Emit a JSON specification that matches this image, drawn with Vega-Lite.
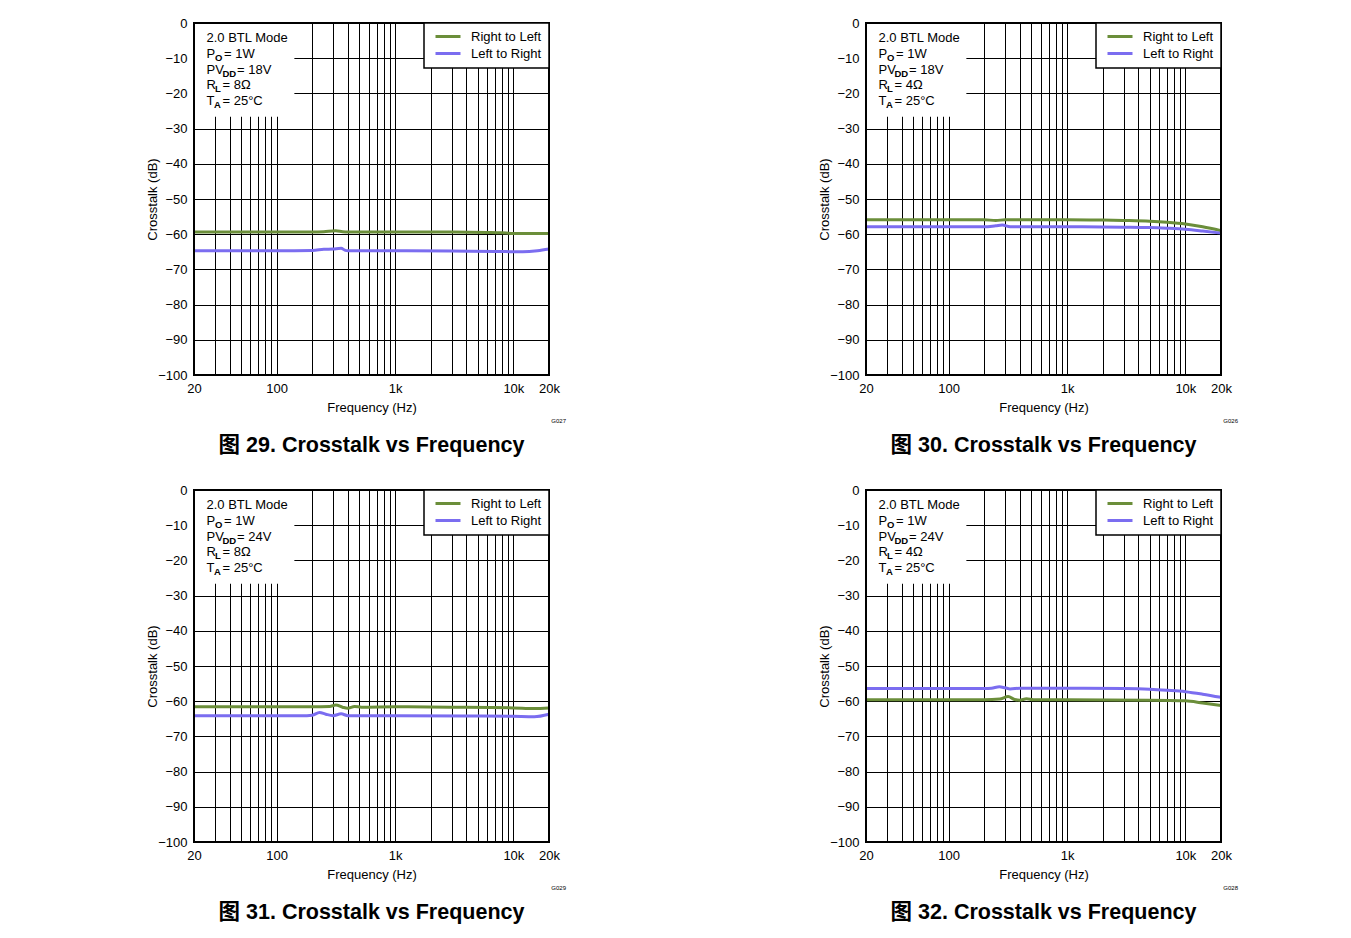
{
  "$schema": "https://vega.github.io/schema/vega-lite/v6.json",
  "padding": {"left": 146, "top": 17, "right": 5, "bottom": 5},
  "columns": 2,
  "spacing": {"row": 115, "column": 317},
  "bounds": "flush",
  "resolve": {"scale": {"color": "independent"}},
  "datasets": {
    "notes": [
      {"p": 29, "mode": "2.0 BTL Mode", "po": "= 1W", "pv": "= 18V", "rl": "= 8Ω", "ta": "= 25°C", "code": "G027"},
      {"p": 30, "mode": "2.0 BTL Mode", "po": "= 1W", "pv": "= 18V", "rl": "= 4Ω", "ta": "= 25°C", "code": "G026"},
      {"p": 31, "mode": "2.0 BTL Mode", "po": "= 1W", "pv": "= 24V", "rl": "= 8Ω", "ta": "= 25°C", "code": "G029"},
      {"p": 32, "mode": "2.0 BTL Mode", "po": "= 1W", "pv": "= 24V", "rl": "= 4Ω", "ta": "= 25°C", "code": "G028"}
    ],
    "curves": [
      {"p": 29, "s": "Right to Left", "f": 20, "db": -59.4},
      {"p": 29, "s": "Right to Left", "f": 50, "db": -59.4},
      {"p": 29, "s": "Right to Left", "f": 100, "db": -59.4},
      {"p": 29, "s": "Right to Left", "f": 200, "db": -59.4},
      {"p": 29, "s": "Right to Left", "f": 250, "db": -59.3},
      {"p": 29, "s": "Right to Left", "f": 315, "db": -59.0},
      {"p": 29, "s": "Right to Left", "f": 360, "db": -59.3},
      {"p": 29, "s": "Right to Left", "f": 400, "db": -59.4},
      {"p": 29, "s": "Right to Left", "f": 1000, "db": -59.4},
      {"p": 29, "s": "Right to Left", "f": 3000, "db": -59.4},
      {"p": 29, "s": "Right to Left", "f": 6000, "db": -59.5},
      {"p": 29, "s": "Right to Left", "f": 8000, "db": -59.6},
      {"p": 29, "s": "Right to Left", "f": 10000, "db": -59.8},
      {"p": 29, "s": "Right to Left", "f": 20000, "db": -59.8},
      {"p": 29, "s": "Left to Right", "f": 20, "db": -64.7},
      {"p": 29, "s": "Left to Right", "f": 100, "db": -64.7},
      {"p": 29, "s": "Left to Right", "f": 200, "db": -64.6},
      {"p": 29, "s": "Left to Right", "f": 250, "db": -64.3},
      {"p": 29, "s": "Left to Right", "f": 300, "db": -64.2},
      {"p": 29, "s": "Left to Right", "f": 350, "db": -64.0},
      {"p": 29, "s": "Left to Right", "f": 380, "db": -64.6},
      {"p": 29, "s": "Left to Right", "f": 400, "db": -64.7},
      {"p": 29, "s": "Left to Right", "f": 1000, "db": -64.7},
      {"p": 29, "s": "Left to Right", "f": 3000, "db": -64.8},
      {"p": 29, "s": "Left to Right", "f": 7000, "db": -64.9},
      {"p": 29, "s": "Left to Right", "f": 12000, "db": -65.0},
      {"p": 29, "s": "Left to Right", "f": 16000, "db": -64.7},
      {"p": 29, "s": "Left to Right", "f": 20000, "db": -64.2},
      {"p": 30, "s": "Right to Left", "f": 20, "db": -55.9},
      {"p": 30, "s": "Right to Left", "f": 200, "db": -55.9},
      {"p": 30, "s": "Right to Left", "f": 250, "db": -56.1},
      {"p": 30, "s": "Right to Left", "f": 300, "db": -55.9},
      {"p": 30, "s": "Right to Left", "f": 1000, "db": -55.9},
      {"p": 30, "s": "Right to Left", "f": 2000, "db": -56.0},
      {"p": 30, "s": "Right to Left", "f": 3000, "db": -56.1},
      {"p": 30, "s": "Right to Left", "f": 5000, "db": -56.3},
      {"p": 30, "s": "Right to Left", "f": 7000, "db": -56.6},
      {"p": 30, "s": "Right to Left", "f": 10000, "db": -57.1},
      {"p": 30, "s": "Right to Left", "f": 14000, "db": -57.9},
      {"p": 30, "s": "Right to Left", "f": 20000, "db": -59.0},
      {"p": 30, "s": "Left to Right", "f": 20, "db": -57.9},
      {"p": 30, "s": "Left to Right", "f": 200, "db": -57.9},
      {"p": 30, "s": "Left to Right", "f": 250, "db": -57.6},
      {"p": 30, "s": "Left to Right", "f": 284, "db": -57.4},
      {"p": 30, "s": "Left to Right", "f": 330, "db": -57.9},
      {"p": 30, "s": "Left to Right", "f": 1000, "db": -57.9},
      {"p": 30, "s": "Left to Right", "f": 3000, "db": -58.0},
      {"p": 30, "s": "Left to Right", "f": 5000, "db": -58.1},
      {"p": 30, "s": "Left to Right", "f": 7000, "db": -58.3},
      {"p": 30, "s": "Left to Right", "f": 10000, "db": -58.6},
      {"p": 30, "s": "Left to Right", "f": 14000, "db": -59.1},
      {"p": 30, "s": "Left to Right", "f": 20000, "db": -59.7},
      {"p": 31, "s": "Right to Left", "f": 20, "db": -61.6},
      {"p": 31, "s": "Right to Left", "f": 200, "db": -61.6},
      {"p": 31, "s": "Right to Left", "f": 280, "db": -61.5},
      {"p": 31, "s": "Right to Left", "f": 316, "db": -61.1},
      {"p": 31, "s": "Right to Left", "f": 360, "db": -61.7},
      {"p": 31, "s": "Right to Left", "f": 397, "db": -62.0},
      {"p": 31, "s": "Right to Left", "f": 455, "db": -61.5},
      {"p": 31, "s": "Right to Left", "f": 520, "db": -61.7},
      {"p": 31, "s": "Right to Left", "f": 1000, "db": -61.6},
      {"p": 31, "s": "Right to Left", "f": 3000, "db": -61.7},
      {"p": 31, "s": "Right to Left", "f": 10000, "db": -61.9},
      {"p": 31, "s": "Right to Left", "f": 15000, "db": -62.1},
      {"p": 31, "s": "Right to Left", "f": 20000, "db": -61.9},
      {"p": 31, "s": "Left to Right", "f": 20, "db": -64.1},
      {"p": 31, "s": "Left to Right", "f": 180, "db": -64.1},
      {"p": 31, "s": "Left to Right", "f": 200, "db": -64.0},
      {"p": 31, "s": "Left to Right", "f": 230, "db": -63.2},
      {"p": 31, "s": "Left to Right", "f": 260, "db": -63.7},
      {"p": 31, "s": "Left to Right", "f": 300, "db": -64.1},
      {"p": 31, "s": "Left to Right", "f": 350, "db": -63.6},
      {"p": 31, "s": "Left to Right", "f": 400, "db": -64.1},
      {"p": 31, "s": "Left to Right", "f": 1000, "db": -64.1},
      {"p": 31, "s": "Left to Right", "f": 5000, "db": -64.2},
      {"p": 31, "s": "Left to Right", "f": 10000, "db": -64.3},
      {"p": 31, "s": "Left to Right", "f": 15000, "db": -64.4},
      {"p": 31, "s": "Left to Right", "f": 20000, "db": -63.7},
      {"p": 32, "s": "Right to Left", "f": 20, "db": -59.6},
      {"p": 32, "s": "Right to Left", "f": 200, "db": -59.6},
      {"p": 32, "s": "Right to Left", "f": 270, "db": -59.4},
      {"p": 32, "s": "Right to Left", "f": 318, "db": -58.7},
      {"p": 32, "s": "Right to Left", "f": 360, "db": -59.5},
      {"p": 32, "s": "Right to Left", "f": 397, "db": -59.7},
      {"p": 32, "s": "Right to Left", "f": 455, "db": -59.3},
      {"p": 32, "s": "Right to Left", "f": 520, "db": -59.6},
      {"p": 32, "s": "Right to Left", "f": 1000, "db": -59.6},
      {"p": 32, "s": "Right to Left", "f": 5000, "db": -59.7},
      {"p": 32, "s": "Right to Left", "f": 10000, "db": -59.9},
      {"p": 32, "s": "Right to Left", "f": 14000, "db": -60.5},
      {"p": 32, "s": "Right to Left", "f": 20000, "db": -61.2},
      {"p": 32, "s": "Left to Right", "f": 20, "db": -56.4},
      {"p": 32, "s": "Left to Right", "f": 150, "db": -56.4},
      {"p": 32, "s": "Left to Right", "f": 200, "db": -56.4},
      {"p": 32, "s": "Left to Right", "f": 230, "db": -56.3},
      {"p": 32, "s": "Left to Right", "f": 268, "db": -55.9},
      {"p": 32, "s": "Left to Right", "f": 300, "db": -56.2},
      {"p": 32, "s": "Left to Right", "f": 330, "db": -56.5},
      {"p": 32, "s": "Left to Right", "f": 400, "db": -56.3},
      {"p": 32, "s": "Left to Right", "f": 1000, "db": -56.3},
      {"p": 32, "s": "Left to Right", "f": 3000, "db": -56.4},
      {"p": 32, "s": "Left to Right", "f": 5000, "db": -56.6},
      {"p": 32, "s": "Left to Right", "f": 7000, "db": -56.9},
      {"p": 32, "s": "Left to Right", "f": 10000, "db": -57.3},
      {"p": 32, "s": "Left to Right", "f": 14000, "db": -58.0},
      {"p": 32, "s": "Left to Right", "f": 20000, "db": -58.9}
    ]
  },
  "concat": [
    {
      "width": 355, "height": 352,
      "title": {"text": "图 29. Crosstalk vs Frequency"},
      "data": {"name": "notes"},
      "transform": [{"filter": "datum.p == 29"}],
      "layer": [
        {"mark": {"type": "rect", "fill": "white"}, "encoding": {
          "x": {"datum": 20, "type": "quantitative", "scale": {"type": "log", "domain": [20, 20000], "nice": false}, "axis": {"title": "Frequency (Hz)", "values": [20,30,40,50,60,70,80,90,100,200,300,400,500,600,700,800,900,1000,2000,3000,4000,5000,6000,7000,8000,9000,10000,20000], "labelExpr": "datum.value == 20 ? '20' : datum.value == 100 ? '100' : datum.value == 1000 ? '1k' : datum.value == 10000 ? '10k' : datum.value == 20000 ? '20k' : ''", "labelOverlap": false, "labelFlush": false, "labelPadding": 7, "titlePadding": 6}},
          "x2": {"datum": 141},
          "y": {"datum": 0, "type": "quantitative", "scale": {"domain": [-100, 0], "nice": false}, "axis": {"title": "Crosstalk (dB)", "values": [-100,-90,-80,-70,-60,-50,-40,-30,-20,-10,0], "labelOverlap": false, "labelPadding": 7, "titlePadding": -1.5}},
          "y2": {"datum": -26.6}}},
        {"data": {"name": "curves"}, "transform": [{"filter": "datum.p == 29"}], "mark": {"type": "line", "strokeWidth": 3, "interpolate": "monotone"}, "encoding": {
          "x": {"field": "f", "type": "quantitative", "scale": {"type": "log", "domain": [20, 20000], "nice": false}, "axis": {"title": "Frequency (Hz)", "values": [20,30,40,50,60,70,80,90,100,200,300,400,500,600,700,800,900,1000,2000,3000,4000,5000,6000,7000,8000,9000,10000,20000], "labelExpr": "datum.value == 20 ? '20' : datum.value == 100 ? '100' : datum.value == 1000 ? '1k' : datum.value == 10000 ? '10k' : datum.value == 20000 ? '20k' : ''", "labelOverlap": false, "labelFlush": false, "labelPadding": 7, "titlePadding": 6}},
          "y": {"field": "db", "type": "quantitative", "scale": {"domain": [-100, 0], "nice": false}, "axis": {"title": "Crosstalk (dB)", "values": [-100,-90,-80,-70,-60,-50,-40,-30,-20,-10,0], "labelOverlap": false, "labelPadding": 7, "titlePadding": -1.5}},
          "color": {"field": "s", "type": "nominal", "scale": {"domain": ["Right to Left", "Left to Right"], "range": ["#6B8E3A", "#7B6DF0"]}, "legend": {"title": null}}}},
        {"mark": {"type": "text", "align": "left", "baseline": "alphabetic", "fontSize": 13}, "encoding": {"x": {"datum": 25.5, "type": "quantitative"}, "y": {"datum": -5.5, "type": "quantitative"}, "text": {"field": "mode"}}},
        {"mark": {"type": "text", "align": "left", "baseline": "alphabetic", "fontSize": 13}, "encoding": {"x": {"datum": 25.5, "type": "quantitative"}, "y": {"datum": -9.95, "type": "quantitative"}, "text": {"value": "P"}}},
        {"mark": {"type": "text", "align": "left", "baseline": "alphabetic", "fontSize": 9.5, "fontWeight": "bold", "dx": 8.5, "dy": 3}, "encoding": {"x": {"datum": 25.5, "type": "quantitative"}, "y": {"datum": -9.95, "type": "quantitative"}, "text": {"value": "O"}}},
        {"mark": {"type": "text", "align": "left", "baseline": "alphabetic", "fontSize": 13, "dx": 17.5}, "encoding": {"x": {"datum": 25.5, "type": "quantitative"}, "y": {"datum": -9.95, "type": "quantitative"}, "text": {"field": "po"}}},
        {"mark": {"type": "text", "align": "left", "baseline": "alphabetic", "fontSize": 13}, "encoding": {"x": {"datum": 25.5, "type": "quantitative"}, "y": {"datum": -14.4, "type": "quantitative"}, "text": {"value": "PV"}}},
        {"mark": {"type": "text", "align": "left", "baseline": "alphabetic", "fontSize": 9.5, "fontWeight": "bold", "dx": 16, "dy": 3}, "encoding": {"x": {"datum": 25.5, "type": "quantitative"}, "y": {"datum": -14.4, "type": "quantitative"}, "text": {"value": "DD"}}},
        {"mark": {"type": "text", "align": "left", "baseline": "alphabetic", "fontSize": 13, "dx": 30.5}, "encoding": {"x": {"datum": 25.5, "type": "quantitative"}, "y": {"datum": -14.4, "type": "quantitative"}, "text": {"field": "pv"}}},
        {"mark": {"type": "text", "align": "left", "baseline": "alphabetic", "fontSize": 13}, "encoding": {"x": {"datum": 25.5, "type": "quantitative"}, "y": {"datum": -18.85, "type": "quantitative"}, "text": {"value": "R"}}},
        {"mark": {"type": "text", "align": "left", "baseline": "alphabetic", "fontSize": 9.5, "fontWeight": "bold", "dx": 8.5, "dy": 3}, "encoding": {"x": {"datum": 25.5, "type": "quantitative"}, "y": {"datum": -18.85, "type": "quantitative"}, "text": {"value": "L"}}},
        {"mark": {"type": "text", "align": "left", "baseline": "alphabetic", "fontSize": 13, "dx": 16}, "encoding": {"x": {"datum": 25.5, "type": "quantitative"}, "y": {"datum": -18.85, "type": "quantitative"}, "text": {"field": "rl"}}},
        {"mark": {"type": "text", "align": "left", "baseline": "alphabetic", "fontSize": 13}, "encoding": {"x": {"datum": 25.5, "type": "quantitative"}, "y": {"datum": -23.3, "type": "quantitative"}, "text": {"value": "T"}}},
        {"mark": {"type": "text", "align": "left", "baseline": "alphabetic", "fontSize": 9.5, "fontWeight": "bold", "dx": 7.5, "dy": 3}, "encoding": {"x": {"datum": 25.5, "type": "quantitative"}, "y": {"datum": -23.3, "type": "quantitative"}, "text": {"value": "A"}}},
        {"mark": {"type": "text", "align": "left", "baseline": "alphabetic", "fontSize": 13, "dx": 16}, "encoding": {"x": {"datum": 25.5, "type": "quantitative"}, "y": {"datum": -23.3, "type": "quantitative"}, "text": {"field": "ta"}}},
        {"mark": {"type": "text", "align": "right", "baseline": "middle", "fontSize": 6, "dx": 17, "dy": 46}, "encoding": {"x": {"datum": 20000, "type": "quantitative"}, "y": {"datum": -100, "type": "quantitative"}, "text": {"field": "code"}}},
        {"mark": {"type": "rect", "fillOpacity": 0, "stroke": "black", "strokeWidth": 2}, "encoding": {"x": {"datum": 20, "type": "quantitative"}, "x2": {"datum": 20000}, "y": {"datum": 0, "type": "quantitative"}, "y2": {"datum": -100}}}
      ]
    },
    {
      "width": 355, "height": 352,
      "title": {"text": "图 30. Crosstalk vs Frequency"},
      "data": {"name": "notes"},
      "transform": [{"filter": "datum.p == 30"}],
      "layer": [
        {"mark": {"type": "rect", "fill": "white"}, "encoding": {
          "x": {"datum": 20, "type": "quantitative", "scale": {"type": "log", "domain": [20, 20000], "nice": false}, "axis": {"title": "Frequency (Hz)", "values": [20,30,40,50,60,70,80,90,100,200,300,400,500,600,700,800,900,1000,2000,3000,4000,5000,6000,7000,8000,9000,10000,20000], "labelExpr": "datum.value == 20 ? '20' : datum.value == 100 ? '100' : datum.value == 1000 ? '1k' : datum.value == 10000 ? '10k' : datum.value == 20000 ? '20k' : ''", "labelOverlap": false, "labelFlush": false, "labelPadding": 7, "titlePadding": 6}},
          "x2": {"datum": 141},
          "y": {"datum": 0, "type": "quantitative", "scale": {"domain": [-100, 0], "nice": false}, "axis": {"title": "Crosstalk (dB)", "values": [-100,-90,-80,-70,-60,-50,-40,-30,-20,-10,0], "labelOverlap": false, "labelPadding": 7, "titlePadding": -1.5}},
          "y2": {"datum": -26.6}}},
        {"data": {"name": "curves"}, "transform": [{"filter": "datum.p == 30"}], "mark": {"type": "line", "strokeWidth": 3, "interpolate": "monotone"}, "encoding": {
          "x": {"field": "f", "type": "quantitative", "scale": {"type": "log", "domain": [20, 20000], "nice": false}, "axis": {"title": "Frequency (Hz)", "values": [20,30,40,50,60,70,80,90,100,200,300,400,500,600,700,800,900,1000,2000,3000,4000,5000,6000,7000,8000,9000,10000,20000], "labelExpr": "datum.value == 20 ? '20' : datum.value == 100 ? '100' : datum.value == 1000 ? '1k' : datum.value == 10000 ? '10k' : datum.value == 20000 ? '20k' : ''", "labelOverlap": false, "labelFlush": false, "labelPadding": 7, "titlePadding": 6}},
          "y": {"field": "db", "type": "quantitative", "scale": {"domain": [-100, 0], "nice": false}, "axis": {"title": "Crosstalk (dB)", "values": [-100,-90,-80,-70,-60,-50,-40,-30,-20,-10,0], "labelOverlap": false, "labelPadding": 7, "titlePadding": -1.5}},
          "color": {"field": "s", "type": "nominal", "scale": {"domain": ["Right to Left", "Left to Right"], "range": ["#6B8E3A", "#7B6DF0"]}, "legend": {"title": null}}}},
        {"mark": {"type": "text", "align": "left", "baseline": "alphabetic", "fontSize": 13}, "encoding": {"x": {"datum": 25.5, "type": "quantitative"}, "y": {"datum": -5.5, "type": "quantitative"}, "text": {"field": "mode"}}},
        {"mark": {"type": "text", "align": "left", "baseline": "alphabetic", "fontSize": 13}, "encoding": {"x": {"datum": 25.5, "type": "quantitative"}, "y": {"datum": -9.95, "type": "quantitative"}, "text": {"value": "P"}}},
        {"mark": {"type": "text", "align": "left", "baseline": "alphabetic", "fontSize": 9.5, "fontWeight": "bold", "dx": 8.5, "dy": 3}, "encoding": {"x": {"datum": 25.5, "type": "quantitative"}, "y": {"datum": -9.95, "type": "quantitative"}, "text": {"value": "O"}}},
        {"mark": {"type": "text", "align": "left", "baseline": "alphabetic", "fontSize": 13, "dx": 17.5}, "encoding": {"x": {"datum": 25.5, "type": "quantitative"}, "y": {"datum": -9.95, "type": "quantitative"}, "text": {"field": "po"}}},
        {"mark": {"type": "text", "align": "left", "baseline": "alphabetic", "fontSize": 13}, "encoding": {"x": {"datum": 25.5, "type": "quantitative"}, "y": {"datum": -14.4, "type": "quantitative"}, "text": {"value": "PV"}}},
        {"mark": {"type": "text", "align": "left", "baseline": "alphabetic", "fontSize": 9.5, "fontWeight": "bold", "dx": 16, "dy": 3}, "encoding": {"x": {"datum": 25.5, "type": "quantitative"}, "y": {"datum": -14.4, "type": "quantitative"}, "text": {"value": "DD"}}},
        {"mark": {"type": "text", "align": "left", "baseline": "alphabetic", "fontSize": 13, "dx": 30.5}, "encoding": {"x": {"datum": 25.5, "type": "quantitative"}, "y": {"datum": -14.4, "type": "quantitative"}, "text": {"field": "pv"}}},
        {"mark": {"type": "text", "align": "left", "baseline": "alphabetic", "fontSize": 13}, "encoding": {"x": {"datum": 25.5, "type": "quantitative"}, "y": {"datum": -18.85, "type": "quantitative"}, "text": {"value": "R"}}},
        {"mark": {"type": "text", "align": "left", "baseline": "alphabetic", "fontSize": 9.5, "fontWeight": "bold", "dx": 8.5, "dy": 3}, "encoding": {"x": {"datum": 25.5, "type": "quantitative"}, "y": {"datum": -18.85, "type": "quantitative"}, "text": {"value": "L"}}},
        {"mark": {"type": "text", "align": "left", "baseline": "alphabetic", "fontSize": 13, "dx": 16}, "encoding": {"x": {"datum": 25.5, "type": "quantitative"}, "y": {"datum": -18.85, "type": "quantitative"}, "text": {"field": "rl"}}},
        {"mark": {"type": "text", "align": "left", "baseline": "alphabetic", "fontSize": 13}, "encoding": {"x": {"datum": 25.5, "type": "quantitative"}, "y": {"datum": -23.3, "type": "quantitative"}, "text": {"value": "T"}}},
        {"mark": {"type": "text", "align": "left", "baseline": "alphabetic", "fontSize": 9.5, "fontWeight": "bold", "dx": 7.5, "dy": 3}, "encoding": {"x": {"datum": 25.5, "type": "quantitative"}, "y": {"datum": -23.3, "type": "quantitative"}, "text": {"value": "A"}}},
        {"mark": {"type": "text", "align": "left", "baseline": "alphabetic", "fontSize": 13, "dx": 16}, "encoding": {"x": {"datum": 25.5, "type": "quantitative"}, "y": {"datum": -23.3, "type": "quantitative"}, "text": {"field": "ta"}}},
        {"mark": {"type": "text", "align": "right", "baseline": "middle", "fontSize": 6, "dx": 17, "dy": 46}, "encoding": {"x": {"datum": 20000, "type": "quantitative"}, "y": {"datum": -100, "type": "quantitative"}, "text": {"field": "code"}}},
        {"mark": {"type": "rect", "fillOpacity": 0, "stroke": "black", "strokeWidth": 2}, "encoding": {"x": {"datum": 20, "type": "quantitative"}, "x2": {"datum": 20000}, "y": {"datum": 0, "type": "quantitative"}, "y2": {"datum": -100}}}
      ]
    },
    {
      "width": 355, "height": 352,
      "title": {"text": "图 31. Crosstalk vs Frequency"},
      "data": {"name": "notes"},
      "transform": [{"filter": "datum.p == 31"}],
      "layer": [
        {"mark": {"type": "rect", "fill": "white"}, "encoding": {
          "x": {"datum": 20, "type": "quantitative", "scale": {"type": "log", "domain": [20, 20000], "nice": false}, "axis": {"title": "Frequency (Hz)", "values": [20,30,40,50,60,70,80,90,100,200,300,400,500,600,700,800,900,1000,2000,3000,4000,5000,6000,7000,8000,9000,10000,20000], "labelExpr": "datum.value == 20 ? '20' : datum.value == 100 ? '100' : datum.value == 1000 ? '1k' : datum.value == 10000 ? '10k' : datum.value == 20000 ? '20k' : ''", "labelOverlap": false, "labelFlush": false, "labelPadding": 7, "titlePadding": 6}},
          "x2": {"datum": 141},
          "y": {"datum": 0, "type": "quantitative", "scale": {"domain": [-100, 0], "nice": false}, "axis": {"title": "Crosstalk (dB)", "values": [-100,-90,-80,-70,-60,-50,-40,-30,-20,-10,0], "labelOverlap": false, "labelPadding": 7, "titlePadding": -1.5}},
          "y2": {"datum": -26.6}}},
        {"data": {"name": "curves"}, "transform": [{"filter": "datum.p == 31"}], "mark": {"type": "line", "strokeWidth": 3, "interpolate": "monotone"}, "encoding": {
          "x": {"field": "f", "type": "quantitative", "scale": {"type": "log", "domain": [20, 20000], "nice": false}, "axis": {"title": "Frequency (Hz)", "values": [20,30,40,50,60,70,80,90,100,200,300,400,500,600,700,800,900,1000,2000,3000,4000,5000,6000,7000,8000,9000,10000,20000], "labelExpr": "datum.value == 20 ? '20' : datum.value == 100 ? '100' : datum.value == 1000 ? '1k' : datum.value == 10000 ? '10k' : datum.value == 20000 ? '20k' : ''", "labelOverlap": false, "labelFlush": false, "labelPadding": 7, "titlePadding": 6}},
          "y": {"field": "db", "type": "quantitative", "scale": {"domain": [-100, 0], "nice": false}, "axis": {"title": "Crosstalk (dB)", "values": [-100,-90,-80,-70,-60,-50,-40,-30,-20,-10,0], "labelOverlap": false, "labelPadding": 7, "titlePadding": -1.5}},
          "color": {"field": "s", "type": "nominal", "scale": {"domain": ["Right to Left", "Left to Right"], "range": ["#6B8E3A", "#7B6DF0"]}, "legend": {"title": null}}}},
        {"mark": {"type": "text", "align": "left", "baseline": "alphabetic", "fontSize": 13}, "encoding": {"x": {"datum": 25.5, "type": "quantitative"}, "y": {"datum": -5.5, "type": "quantitative"}, "text": {"field": "mode"}}},
        {"mark": {"type": "text", "align": "left", "baseline": "alphabetic", "fontSize": 13}, "encoding": {"x": {"datum": 25.5, "type": "quantitative"}, "y": {"datum": -9.95, "type": "quantitative"}, "text": {"value": "P"}}},
        {"mark": {"type": "text", "align": "left", "baseline": "alphabetic", "fontSize": 9.5, "fontWeight": "bold", "dx": 8.5, "dy": 3}, "encoding": {"x": {"datum": 25.5, "type": "quantitative"}, "y": {"datum": -9.95, "type": "quantitative"}, "text": {"value": "O"}}},
        {"mark": {"type": "text", "align": "left", "baseline": "alphabetic", "fontSize": 13, "dx": 17.5}, "encoding": {"x": {"datum": 25.5, "type": "quantitative"}, "y": {"datum": -9.95, "type": "quantitative"}, "text": {"field": "po"}}},
        {"mark": {"type": "text", "align": "left", "baseline": "alphabetic", "fontSize": 13}, "encoding": {"x": {"datum": 25.5, "type": "quantitative"}, "y": {"datum": -14.4, "type": "quantitative"}, "text": {"value": "PV"}}},
        {"mark": {"type": "text", "align": "left", "baseline": "alphabetic", "fontSize": 9.5, "fontWeight": "bold", "dx": 16, "dy": 3}, "encoding": {"x": {"datum": 25.5, "type": "quantitative"}, "y": {"datum": -14.4, "type": "quantitative"}, "text": {"value": "DD"}}},
        {"mark": {"type": "text", "align": "left", "baseline": "alphabetic", "fontSize": 13, "dx": 30.5}, "encoding": {"x": {"datum": 25.5, "type": "quantitative"}, "y": {"datum": -14.4, "type": "quantitative"}, "text": {"field": "pv"}}},
        {"mark": {"type": "text", "align": "left", "baseline": "alphabetic", "fontSize": 13}, "encoding": {"x": {"datum": 25.5, "type": "quantitative"}, "y": {"datum": -18.85, "type": "quantitative"}, "text": {"value": "R"}}},
        {"mark": {"type": "text", "align": "left", "baseline": "alphabetic", "fontSize": 9.5, "fontWeight": "bold", "dx": 8.5, "dy": 3}, "encoding": {"x": {"datum": 25.5, "type": "quantitative"}, "y": {"datum": -18.85, "type": "quantitative"}, "text": {"value": "L"}}},
        {"mark": {"type": "text", "align": "left", "baseline": "alphabetic", "fontSize": 13, "dx": 16}, "encoding": {"x": {"datum": 25.5, "type": "quantitative"}, "y": {"datum": -18.85, "type": "quantitative"}, "text": {"field": "rl"}}},
        {"mark": {"type": "text", "align": "left", "baseline": "alphabetic", "fontSize": 13}, "encoding": {"x": {"datum": 25.5, "type": "quantitative"}, "y": {"datum": -23.3, "type": "quantitative"}, "text": {"value": "T"}}},
        {"mark": {"type": "text", "align": "left", "baseline": "alphabetic", "fontSize": 9.5, "fontWeight": "bold", "dx": 7.5, "dy": 3}, "encoding": {"x": {"datum": 25.5, "type": "quantitative"}, "y": {"datum": -23.3, "type": "quantitative"}, "text": {"value": "A"}}},
        {"mark": {"type": "text", "align": "left", "baseline": "alphabetic", "fontSize": 13, "dx": 16}, "encoding": {"x": {"datum": 25.5, "type": "quantitative"}, "y": {"datum": -23.3, "type": "quantitative"}, "text": {"field": "ta"}}},
        {"mark": {"type": "text", "align": "right", "baseline": "middle", "fontSize": 6, "dx": 17, "dy": 46}, "encoding": {"x": {"datum": 20000, "type": "quantitative"}, "y": {"datum": -100, "type": "quantitative"}, "text": {"field": "code"}}},
        {"mark": {"type": "rect", "fillOpacity": 0, "stroke": "black", "strokeWidth": 2}, "encoding": {"x": {"datum": 20, "type": "quantitative"}, "x2": {"datum": 20000}, "y": {"datum": 0, "type": "quantitative"}, "y2": {"datum": -100}}}
      ]
    },
    {
      "width": 355, "height": 352,
      "title": {"text": "图 32. Crosstalk vs Frequency"},
      "data": {"name": "notes"},
      "transform": [{"filter": "datum.p == 32"}],
      "layer": [
        {"mark": {"type": "rect", "fill": "white"}, "encoding": {
          "x": {"datum": 20, "type": "quantitative", "scale": {"type": "log", "domain": [20, 20000], "nice": false}, "axis": {"title": "Frequency (Hz)", "values": [20,30,40,50,60,70,80,90,100,200,300,400,500,600,700,800,900,1000,2000,3000,4000,5000,6000,7000,8000,9000,10000,20000], "labelExpr": "datum.value == 20 ? '20' : datum.value == 100 ? '100' : datum.value == 1000 ? '1k' : datum.value == 10000 ? '10k' : datum.value == 20000 ? '20k' : ''", "labelOverlap": false, "labelFlush": false, "labelPadding": 7, "titlePadding": 6}},
          "x2": {"datum": 141},
          "y": {"datum": 0, "type": "quantitative", "scale": {"domain": [-100, 0], "nice": false}, "axis": {"title": "Crosstalk (dB)", "values": [-100,-90,-80,-70,-60,-50,-40,-30,-20,-10,0], "labelOverlap": false, "labelPadding": 7, "titlePadding": -1.5}},
          "y2": {"datum": -26.6}}},
        {"data": {"name": "curves"}, "transform": [{"filter": "datum.p == 32"}], "mark": {"type": "line", "strokeWidth": 3, "interpolate": "monotone"}, "encoding": {
          "x": {"field": "f", "type": "quantitative", "scale": {"type": "log", "domain": [20, 20000], "nice": false}, "axis": {"title": "Frequency (Hz)", "values": [20,30,40,50,60,70,80,90,100,200,300,400,500,600,700,800,900,1000,2000,3000,4000,5000,6000,7000,8000,9000,10000,20000], "labelExpr": "datum.value == 20 ? '20' : datum.value == 100 ? '100' : datum.value == 1000 ? '1k' : datum.value == 10000 ? '10k' : datum.value == 20000 ? '20k' : ''", "labelOverlap": false, "labelFlush": false, "labelPadding": 7, "titlePadding": 6}},
          "y": {"field": "db", "type": "quantitative", "scale": {"domain": [-100, 0], "nice": false}, "axis": {"title": "Crosstalk (dB)", "values": [-100,-90,-80,-70,-60,-50,-40,-30,-20,-10,0], "labelOverlap": false, "labelPadding": 7, "titlePadding": -1.5}},
          "color": {"field": "s", "type": "nominal", "scale": {"domain": ["Right to Left", "Left to Right"], "range": ["#6B8E3A", "#7B6DF0"]}, "legend": {"title": null}}}},
        {"mark": {"type": "text", "align": "left", "baseline": "alphabetic", "fontSize": 13}, "encoding": {"x": {"datum": 25.5, "type": "quantitative"}, "y": {"datum": -5.5, "type": "quantitative"}, "text": {"field": "mode"}}},
        {"mark": {"type": "text", "align": "left", "baseline": "alphabetic", "fontSize": 13}, "encoding": {"x": {"datum": 25.5, "type": "quantitative"}, "y": {"datum": -9.95, "type": "quantitative"}, "text": {"value": "P"}}},
        {"mark": {"type": "text", "align": "left", "baseline": "alphabetic", "fontSize": 9.5, "fontWeight": "bold", "dx": 8.5, "dy": 3}, "encoding": {"x": {"datum": 25.5, "type": "quantitative"}, "y": {"datum": -9.95, "type": "quantitative"}, "text": {"value": "O"}}},
        {"mark": {"type": "text", "align": "left", "baseline": "alphabetic", "fontSize": 13, "dx": 17.5}, "encoding": {"x": {"datum": 25.5, "type": "quantitative"}, "y": {"datum": -9.95, "type": "quantitative"}, "text": {"field": "po"}}},
        {"mark": {"type": "text", "align": "left", "baseline": "alphabetic", "fontSize": 13}, "encoding": {"x": {"datum": 25.5, "type": "quantitative"}, "y": {"datum": -14.4, "type": "quantitative"}, "text": {"value": "PV"}}},
        {"mark": {"type": "text", "align": "left", "baseline": "alphabetic", "fontSize": 9.5, "fontWeight": "bold", "dx": 16, "dy": 3}, "encoding": {"x": {"datum": 25.5, "type": "quantitative"}, "y": {"datum": -14.4, "type": "quantitative"}, "text": {"value": "DD"}}},
        {"mark": {"type": "text", "align": "left", "baseline": "alphabetic", "fontSize": 13, "dx": 30.5}, "encoding": {"x": {"datum": 25.5, "type": "quantitative"}, "y": {"datum": -14.4, "type": "quantitative"}, "text": {"field": "pv"}}},
        {"mark": {"type": "text", "align": "left", "baseline": "alphabetic", "fontSize": 13}, "encoding": {"x": {"datum": 25.5, "type": "quantitative"}, "y": {"datum": -18.85, "type": "quantitative"}, "text": {"value": "R"}}},
        {"mark": {"type": "text", "align": "left", "baseline": "alphabetic", "fontSize": 9.5, "fontWeight": "bold", "dx": 8.5, "dy": 3}, "encoding": {"x": {"datum": 25.5, "type": "quantitative"}, "y": {"datum": -18.85, "type": "quantitative"}, "text": {"value": "L"}}},
        {"mark": {"type": "text", "align": "left", "baseline": "alphabetic", "fontSize": 13, "dx": 16}, "encoding": {"x": {"datum": 25.5, "type": "quantitative"}, "y": {"datum": -18.85, "type": "quantitative"}, "text": {"field": "rl"}}},
        {"mark": {"type": "text", "align": "left", "baseline": "alphabetic", "fontSize": 13}, "encoding": {"x": {"datum": 25.5, "type": "quantitative"}, "y": {"datum": -23.3, "type": "quantitative"}, "text": {"value": "T"}}},
        {"mark": {"type": "text", "align": "left", "baseline": "alphabetic", "fontSize": 9.5, "fontWeight": "bold", "dx": 7.5, "dy": 3}, "encoding": {"x": {"datum": 25.5, "type": "quantitative"}, "y": {"datum": -23.3, "type": "quantitative"}, "text": {"value": "A"}}},
        {"mark": {"type": "text", "align": "left", "baseline": "alphabetic", "fontSize": 13, "dx": 16}, "encoding": {"x": {"datum": 25.5, "type": "quantitative"}, "y": {"datum": -23.3, "type": "quantitative"}, "text": {"field": "ta"}}},
        {"mark": {"type": "text", "align": "right", "baseline": "middle", "fontSize": 6, "dx": 17, "dy": 46}, "encoding": {"x": {"datum": 20000, "type": "quantitative"}, "y": {"datum": -100, "type": "quantitative"}, "text": {"field": "code"}}},
        {"mark": {"type": "rect", "fillOpacity": 0, "stroke": "black", "strokeWidth": 2}, "encoding": {"x": {"datum": 20, "type": "quantitative"}, "x2": {"datum": 20000}, "y": {"datum": 0, "type": "quantitative"}, "y2": {"datum": -100}}}
      ]
    }
  ],
  "config": {
    "font": "Liberation Sans",
    "view": {"stroke": null},
    "text": {"font": "Liberation Sans", "color": "black"},
    "axis": {"labelFont": "Liberation Sans", "labelFontSize": 13, "labelColor": "black", "titleFont": "Liberation Sans", "titleFontSize": 13, "titleFontWeight": "normal", "titleColor": "black", "grid": true, "gridColor": "black", "gridOpacity": 1, "gridWidth": 1, "ticks": false, "domain": false},
    "axisY": {"tickCount": 11},
    "legend": {"orient": "top-right", "offset": 0, "fillColor": "white", "strokeColor": "black", "strokeWidth": 1.5, "padding": 7, "symbolOffset": 10.5, "symbolType": "M-2.5,0H2.5", "symbolSize": 100, "symbolStrokeWidth": 3, "labelFont": "Liberation Sans", "labelFontSize": 13, "labelColor": "black", "labelOffset": 16.5, "rowPadding": 3},
    "title": {"font": "Liberation Sans, Noto Sans CJK SC", "fontSize": 21.5, "fontWeight": "bold", "color": "black", "orient": "bottom", "anchor": "middle", "offset": 11}
  }
}
